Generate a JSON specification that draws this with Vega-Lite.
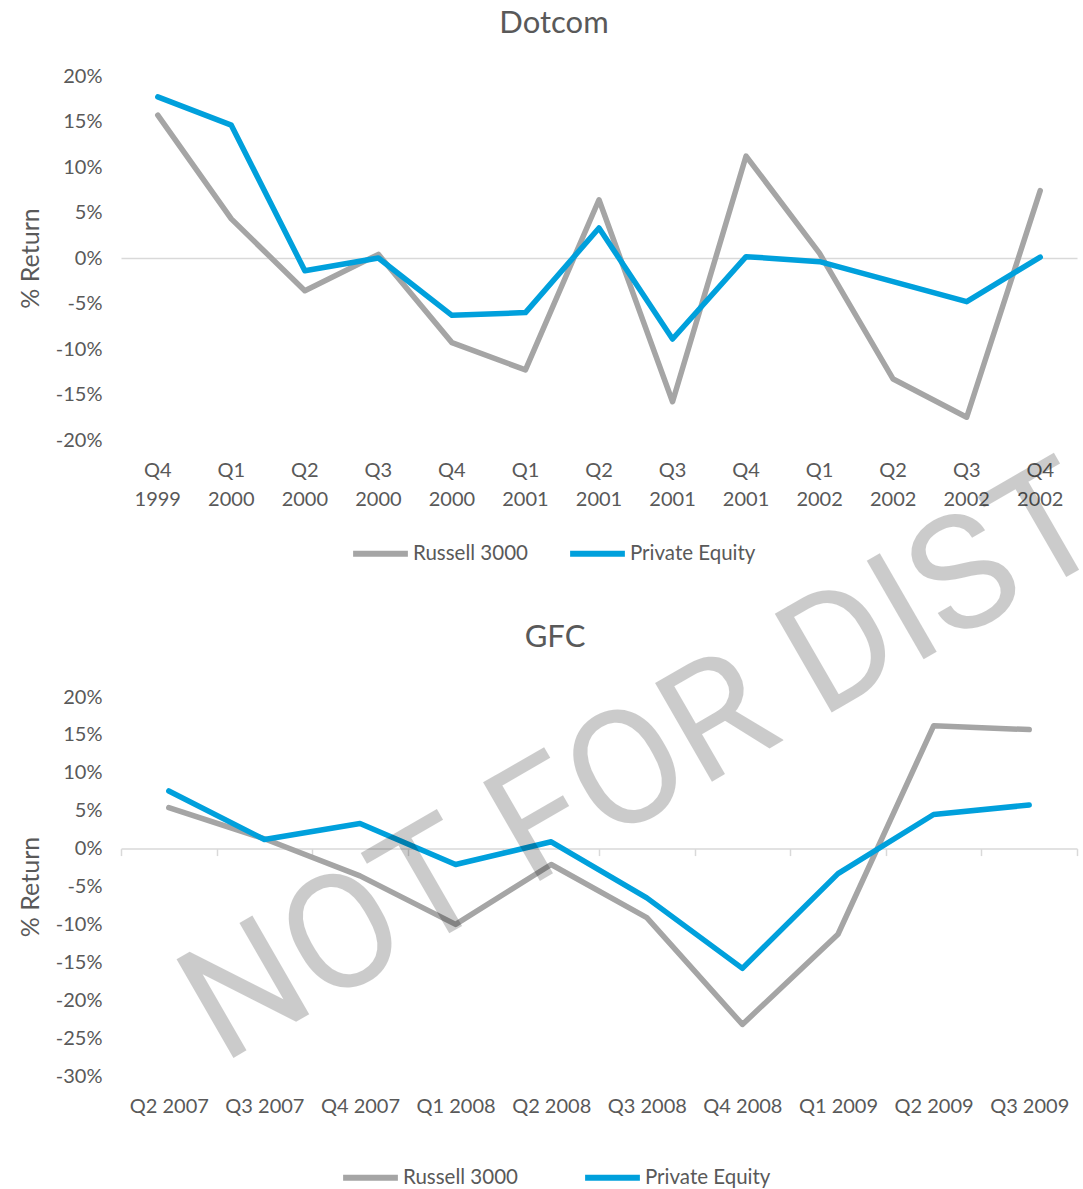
{
  "$schema": "https://vega.github.io/schema/vega-lite/v6.json",
  "padding": {"left": 18, "top": 8, "right": 0, "bottom": 5},
  "bounds": "flush",
  "spacing": 257,
  "resolve": {"legend": {"color": "independent"}},
  "config": {
    "view": {"stroke": null},
    "font": "Lato",
    "axis": {"labelFont": "Lato", "titleFont": "Lato", "labelColor": "#595959", "titleColor": "#595959"},
    "title": {"font": "Lato", "fontSize": 31, "fontWeight": "normal", "color": "#595959"},
    "legend": {"labelFont": "Lato", "labelFontSize": 20.5, "labelColor": "#595959", "symbolType": "stroke", "symbolStrokeWidth": 6, "symbolSize": 3000, "labelOffset": 2, "direction": "horizontal", "title": null, "padding": 0}
  },
  "vconcat": [
    {
      "title": {"text": "Dotcom", "dx": -45, "offset": 26},
      "width": 956,
      "height": 364,
      "data": {"values": [
        {"quarter": "Q4 1999", "series": "Russell 3000", "ret": 0.157},
        {"quarter": "Q1 2000", "series": "Russell 3000", "ret": 0.043},
        {"quarter": "Q2 2000", "series": "Russell 3000", "ret": -0.036},
        {"quarter": "Q3 2000", "series": "Russell 3000", "ret": 0.004},
        {"quarter": "Q4 2000", "series": "Russell 3000", "ret": -0.093},
        {"quarter": "Q1 2001", "series": "Russell 3000", "ret": -0.123},
        {"quarter": "Q2 2001", "series": "Russell 3000", "ret": 0.064},
        {"quarter": "Q3 2001", "series": "Russell 3000", "ret": -0.158},
        {"quarter": "Q4 2001", "series": "Russell 3000", "ret": 0.112},
        {"quarter": "Q1 2002", "series": "Russell 3000", "ret": 0.005},
        {"quarter": "Q2 2002", "series": "Russell 3000", "ret": -0.133},
        {"quarter": "Q3 2002", "series": "Russell 3000", "ret": -0.175},
        {"quarter": "Q4 2002", "series": "Russell 3000", "ret": 0.074},
        {"quarter": "Q4 1999", "series": "Private Equity", "ret": 0.177},
        {"quarter": "Q1 2000", "series": "Private Equity", "ret": 0.146},
        {"quarter": "Q2 2000", "series": "Private Equity", "ret": -0.014},
        {"quarter": "Q3 2000", "series": "Private Equity", "ret": 0.0},
        {"quarter": "Q4 2000", "series": "Private Equity", "ret": -0.063},
        {"quarter": "Q1 2001", "series": "Private Equity", "ret": -0.06},
        {"quarter": "Q2 2001", "series": "Private Equity", "ret": 0.033},
        {"quarter": "Q3 2001", "series": "Private Equity", "ret": -0.089},
        {"quarter": "Q4 2001", "series": "Private Equity", "ret": 0.0015},
        {"quarter": "Q1 2002", "series": "Private Equity", "ret": -0.004},
        {"quarter": "Q2 2002", "series": "Private Equity", "ret": -0.026},
        {"quarter": "Q3 2002", "series": "Private Equity", "ret": -0.048},
        {"quarter": "Q4 2002", "series": "Private Equity", "ret": 0.001}
      ]},
      "mark": {"type": "line", "strokeWidth": 5.5, "strokeCap": "round", "strokeJoin": "round"},
      "encoding": {
        "x": {
          "field": "quarter", "type": "ordinal", "bandPosition": 0.5,
          "sort": ["Q4 1999", "Q1 2000", "Q2 2000", "Q3 2000", "Q4 2000", "Q1 2001", "Q2 2001", "Q3 2001", "Q4 2001", "Q1 2002", "Q2 2002", "Q3 2002", "Q4 2002"],
          "scale": {"type": "band", "paddingInner": 0, "paddingOuter": 0},
          "axis": {"title": null, "orient": "bottom", "offset": -182, "domainColor": "#d9d9d9", "domainWidth": 1.5, "ticks": false, "labelAngle": 0, "labelPadding": 202, "labelBaseline": "top", "labelExpr": "split(datum.label, ' ')", "labelFontSize": 20, "labelLineHeight": 29}
        },
        "y": {
          "field": "ret", "type": "quantitative",
          "scale": {"domain": [-0.2, 0.2], "nice": false, "zero": false},
          "axis": {"title": "% Return", "values": [-0.2, -0.15, -0.1, -0.05, 0, 0.05, 0.1, 0.15, 0.2], "labelExpr": "round(datum.value * 100) + '%'", "labelOverlap": false, "grid": false, "domain": false, "ticks": false, "labelPadding": 19, "labelFontSize": 20, "titleFontSize": 25, "titlePadding": 12, "titleFontWeight": "normal"}
        },
        "color": {
          "field": "series", "type": "nominal",
          "scale": {"domain": ["Russell 3000", "Private Equity"], "range": ["#a5a5a5", "#00a0dc"]},
          "legend": {"orient": "none", "legendX": 229, "legendY": 447, "columnPadding": 30}
        }
      }
    },
    {
      "title": {"text": "GFC", "dx": -44, "offset": -217},
      "width": 956,
      "height": 379,
      "layer": [
        {
          "data": {"values": [
            {"quarter": "Q2 2007", "series": "Russell 3000", "ret": 0.054},
            {"quarter": "Q3 2007", "series": "Russell 3000", "ret": 0.013},
            {"quarter": "Q4 2007", "series": "Russell 3000", "ret": -0.036},
            {"quarter": "Q1 2008", "series": "Russell 3000", "ret": -0.1},
            {"quarter": "Q2 2008", "series": "Russell 3000", "ret": -0.021},
            {"quarter": "Q3 2008", "series": "Russell 3000", "ret": -0.091},
            {"quarter": "Q4 2008", "series": "Russell 3000", "ret": -0.232},
            {"quarter": "Q1 2009", "series": "Russell 3000", "ret": -0.113},
            {"quarter": "Q2 2009", "series": "Russell 3000", "ret": 0.162},
            {"quarter": "Q3 2009", "series": "Russell 3000", "ret": 0.157},
            {"quarter": "Q2 2007", "series": "Private Equity", "ret": 0.076},
            {"quarter": "Q3 2007", "series": "Private Equity", "ret": 0.012},
            {"quarter": "Q4 2007", "series": "Private Equity", "ret": 0.033},
            {"quarter": "Q1 2008", "series": "Private Equity", "ret": -0.021},
            {"quarter": "Q2 2008", "series": "Private Equity", "ret": 0.009},
            {"quarter": "Q3 2008", "series": "Private Equity", "ret": -0.065},
            {"quarter": "Q4 2008", "series": "Private Equity", "ret": -0.158},
            {"quarter": "Q1 2009", "series": "Private Equity", "ret": -0.033},
            {"quarter": "Q2 2009", "series": "Private Equity", "ret": 0.045},
            {"quarter": "Q3 2009", "series": "Private Equity", "ret": 0.0575}
          ]},
          "mark": {"type": "line", "strokeWidth": 5.5, "strokeCap": "round", "strokeJoin": "round"},
          "encoding": {
            "x": {
              "field": "quarter", "type": "ordinal", "bandPosition": 0.5,
              "sort": ["Q2 2007", "Q3 2007", "Q4 2007", "Q1 2008", "Q2 2008", "Q3 2008", "Q4 2008", "Q1 2009", "Q2 2009", "Q3 2009"],
              "scale": {"type": "band", "paddingInner": 0, "paddingOuter": 0},
              "axis": {"title": null, "orient": "bottom", "offset": -227.4, "domainColor": "#d9d9d9", "domainWidth": 1.5, "ticks": true, "tickBand": "extent", "tickColor": "#d9d9d9", "tickWidth": 1.5, "tickSize": 7, "labelAngle": 0, "labelPadding": 241, "labelBaseline": "top", "labelFontSize": 20}
            },
            "y": {
              "field": "ret", "type": "quantitative",
              "scale": {"domain": [-0.3, 0.2], "nice": false, "zero": false},
              "axis": {"title": "% Return", "values": [-0.3, -0.25, -0.2, -0.15, -0.1, -0.05, 0, 0.05, 0.1, 0.15, 0.2], "labelExpr": "round(datum.value * 100) + '%'", "labelOverlap": false, "grid": false, "domain": false, "ticks": false, "labelPadding": 19, "labelFontSize": 20, "titleFontSize": 25, "titlePadding": 12, "titleFontWeight": "normal"}
            },
            "color": {
              "field": "series", "type": "nominal",
              "scale": {"domain": ["Russell 3000", "Private Equity"], "range": ["#a5a5a5", "#00a0dc"]},
              "legend": {"orient": "none", "legendX": 219, "legendY": 450, "columnPadding": 55}
            }
          }
        },
        {
          "data": {"values": [{"wm": "NOT FOR DIST"}]},
          "mark": {"type": "text", "font": "Roboto", "fontSize": 160, "angle": -30, "align": "left", "baseline": "alphabetic", "color": "#000000", "opacity": 0.2, "dx": 46, "dy": 26.5},
          "encoding": {
            "x": {"datum": "Q2 2007", "type": "ordinal", "bandPosition": 0.5},
            "y": {
              "datum": -0.285, "type": "quantitative",
              "axis": {"title": "% Return", "values": [-0.3, -0.25, -0.2, -0.15, -0.1, -0.05, 0, 0.05, 0.1, 0.15, 0.2], "labelExpr": "round(datum.value * 100) + '%'", "labelOverlap": false, "grid": false, "domain": false, "ticks": false, "labelPadding": 19, "labelFontSize": 20, "titleFontSize": 25, "titlePadding": 12, "titleFontWeight": "normal"}
            },
            "text": {"field": "wm"}
          }
        }
      ]
    }
  ]
}
